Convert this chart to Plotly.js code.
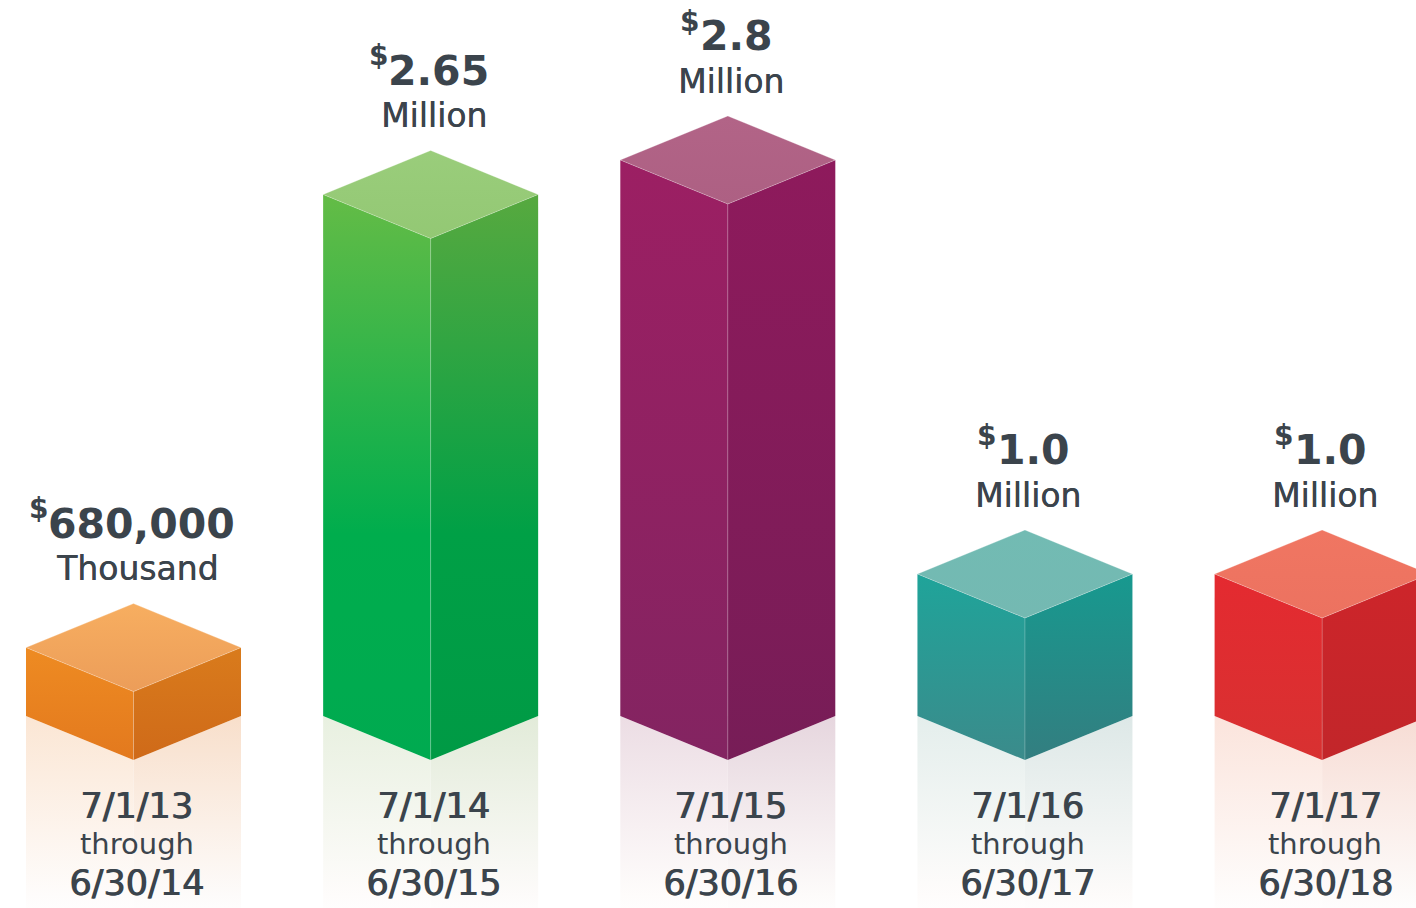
<!DOCTYPE html>
<html>
<head>
<meta charset="utf-8">
<script src="https://cdn.plot.ly/plotly-3.0.1.min.js"></script>
<style>html,body{margin:0;padding:0;background:#fff;}#chart{width:1416px;height:908px;}</style>
</head>
<body>
<div id="chart"></div>
<script>
// ---- data ----
const periodStarts = ['7/1/13', '7/1/14', '7/1/15', '7/1/16', '7/1/17'];
const periodEnds = ['6/30/14', '6/30/15', '6/30/16', '6/30/17', '6/30/18'];
const amountsMillions = [0.68, 2.65, 2.8, 1.0, 1.0];
const amountLabels = ['680,000', '2.65', '2.8', '1.0', '1.0'];
const unitLabels = ['Thousand', 'Million', 'Million', 'Million', 'Million'];
const currencySymbol = '$';

// ---- styles ----
const palette = [
  {left: ['#e3791e', '#ee8b22'], right: ['#cf6a19', '#d97b1c'], top: ['#ec9d59', '#f7ae60'], refl: ['#fbe6d4', '#f8dfcb']},
  {left: ['#00aa50', '#00ad4d', '#64bc46'], right: ['#009a45', '#00a046', '#57a93f'], top: ['#93c874', '#9acd7b'], refl: ['#e8f0e0', '#e2ebd9']},
  {left: ['#832461', '#9c1f63'], right: ['#771d57', '#8e1a5c'], top: ['#ad6083', '#b26487'], refl: ['#ecdde4', '#e6d6de']},
  {left: ['#3b8b8b', '#1fa49a'], right: ['#337e80', '#17998f'], top: ['#74b9b2', '#72bbb3'], refl: ['#e4eeec', '#dde8e7']},
  {left: ['#d83131', '#e42a30'], right: ['#c2262a', '#cd252a'], top: ['#ec7260', '#f07662'], refl: ['#fbe4dc', '#f7dcd4']}
];
const textColor = '#3b444c';
const FONT = 'DejaVu Sans';
const NUM_SIZE = 41, CUR_SIZE = 28;
const PX_PER_UNIT_Y = 230;      // pixels per million
const PX_PER_CAT = 297.15;      // pixels between categories
const HALF_W = 107.5 / PX_PER_CAT;
const DH = 44 / PX_PER_UNIT_Y;  // half height of the top rhombus
const Y_MIN = -148 / PX_PER_UNIT_Y, Y_MAX = 760 / PX_PER_UNIT_Y;
const X_MIN = -133.5 / PX_PER_CAT, X_MAX = (1416 - 133.5) / PX_PER_CAT;

const ctx = document.createElement('canvas').getContext('2d');
function textWidth(str, size, bold) {
  ctx.font = (bold ? 'bold ' : '') + size + 'px "' + FONT + '"';
  return ctx.measureText(str).width;
}

function scale(colors, startVal, stopVal) {
  const cs = colors.length === 3
    ? [[0, colors[0]], [0.4, colors[1]], [1, colors[2]]]
    : [[0, colors[0]], [1, colors[1]]];
  return {type: 'vertical', colorscale: cs, start: startVal, stop: stopVal};
}
function poly(xs, ys, grad, line) {
  return {
    type: 'scatter', mode: 'lines', x: xs.concat([xs[0]]), y: ys.concat([ys[0]]),
    fill: 'toself', fillgradient: grad,
    line: line || {width: 0, color: 'rgba(0,0,0,0)'},
    hoverinfo: 'skip', showlegend: false
  };
}

const traces = [];
const annotations = [];
amountsMillions.forEach((v, i) => {
  const p = palette[i];
  const yb = Y_MIN - 0.05;
  // reflection
  traces.push(poly([i - HALF_W, i, i, i - HALF_W], [DH, 0, yb, yb],
    {type: 'vertical', colorscale: [[0, '#ffffff'], [0.12, '#fefcfb'], [1, p.refl[0]]], start: yb, stop: DH}));
  traces.push(poly([i, i + HALF_W, i + HALF_W, i], [0, DH, yb, yb],
    {type: 'vertical', colorscale: [[0, '#ffffff'], [0.12, '#fdfbfa'], [1, p.refl[1]]], start: yb, stop: DH}));
  // left face
  traces.push(poly([i - HALF_W, i, i, i - HALF_W], [DH, 0, v - 2 * DH, v - DH], scale(p.left, 0, v - DH)));
  // right face
  traces.push(poly([i, i + HALF_W, i + HALF_W, i], [0, DH, v - DH, v - 2 * DH], scale(p.right, 0, v - DH)));
  // top face
  traces.push(poly([i, i - HALF_W, i, i + HALF_W], [v - 2 * DH, v - DH, v, v - DH], scale(p.top, v - 2 * DH, v),
    {width: 1, color: 'rgba(255,255,255,0.25)'}));
  // front edge highlight
  traces.push({type: 'scatter', mode: 'lines', x: [i, i], y: [0, v - 2 * DH],
    line: {width: 1, color: 'rgba(255,255,255,0.22)'}, hoverinfo: 'skip', showlegend: false});

  // value labels: raised currency symbol + amount, centered as a group
  const wn = textWidth(amountLabels[i], NUM_SIZE, true);
  const wd = textWidth(currencySymbol, CUR_SIZE, true) + 1;
  annotations.push({x: i, y: v, xref: 'x', yref: 'y', yanchor: 'middle', yshift: 80, xshift: -2 + wd / 2, showarrow: false,
    text: amountLabels[i], font: {family: FONT, size: NUM_SIZE, weight: 'bold', color: textColor}});
  annotations.push({x: i, y: v, xref: 'x', yref: 'y', yanchor: 'middle', yshift: 95, xshift: -2 - wn / 2, showarrow: false,
    text: currencySymbol, font: {family: FONT, size: CUR_SIZE, weight: 'bold', color: textColor}});
  annotations.push({x: i, y: v, xref: 'x', yref: 'y', yanchor: 'middle', yshift: 35, xshift: 3, showarrow: false,
    text: unitLabels[i], font: {family: FONT, size: 33, color: textColor, shadow: '0.4px 0 0 ' + textColor}});
  // period labels
  const dateFont = {family: FONT, size: 35, color: textColor, shadow: '1px 0 0 ' + textColor};
  annotations.push({x: i, y: 0, xref: 'x', yref: 'y', yanchor: 'middle', yshift: -46, xshift: 3, showarrow: false,
    text: periodStarts[i], font: dateFont});
  annotations.push({x: i, y: 0, xref: 'x', yref: 'y', yanchor: 'middle', yshift: -84, xshift: 3, showarrow: false,
    text: 'through', font: {family: FONT, size: 29, color: textColor}});
  annotations.push({x: i, y: 0, xref: 'x', yref: 'y', yanchor: 'middle', yshift: -123, xshift: 3, showarrow: false,
    text: periodEnds[i], font: dateFont});
});

const layout = {
  width: 1416, height: 908,
  margin: {l: 0, r: 0, t: 0, b: 0, pad: 0},
  paper_bgcolor: '#ffffff', plot_bgcolor: '#ffffff',
  xaxis: {range: [X_MIN, X_MAX], visible: false, fixedrange: true},
  yaxis: {range: [Y_MIN, Y_MAX], visible: false, fixedrange: true},
  annotations: annotations,
  showlegend: false
};
Plotly.newPlot('chart', traces, layout, {displayModeBar: false, staticPlot: true});
</script>
</body>
</html>
